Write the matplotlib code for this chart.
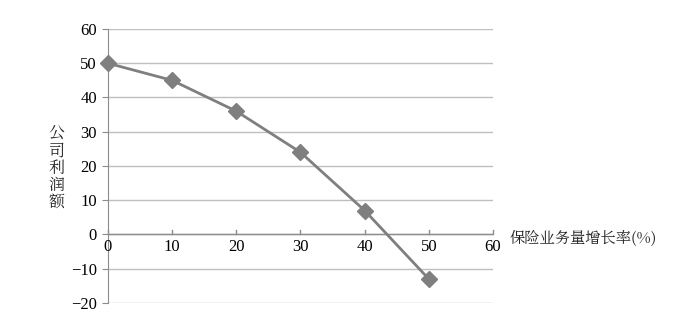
import matplotlib
matplotlib.use('Agg')
import matplotlib.pyplot as plt

x_vals = [0, 10, 20, 30, 40, 50]
profit = [50, 45, 36, 24, 7, -13]
x_ticks = [0, 10, 20, 30, 40, 50, 60]
y_ticks = [-20, -10, 0, 10, 20, 30, 40, 50, 60]

num_font = ['Liberation Serif', 'DejaVu Serif']
cjk_font = ['Noto Serif CJK JP', 'Noto Serif SC', 'Liberation Serif']
plt.rcParams['font.family'] = num_font

fig = plt.figure(figsize=(6.93, 3.18), dpi=100)
ax = fig.add_axes([0.1558, 0.0472, 0.5556, 0.8616])

grid_col = '#bfbfbf'
axis_col = '#8c8c8c'

for yv in y_ticks:
    ax.axhline(yv, color=grid_col, lw=1, zorder=1)

ax.plot(x_vals, profit, color='#7f7f7f', lw=2, marker='D', markersize=8,
        markerfacecolor='#7f7f7f', markeredgecolor='#7f7f7f', zorder=3,
        clip_on=False)

ax.set_xlim(0, 60)
ax.set_ylim(-20, 60)

for s in ['top', 'right', 'bottom']:
    ax.spines[s].set_visible(False)
ax.spines['left'].set_color(axis_col)

# x axis along y=0
ax.axhline(0, color=axis_col, lw=1, zorder=2)
ax.set_xticks([])
for xv in x_ticks:
    ax.plot([xv, xv], [0, 1.3], color=axis_col, lw=1, zorder=2, clip_on=False)
    ax.text(xv, -1.3, str(xv), ha='center', va='top', fontsize=12, family=num_font)

ax.set_yticks(y_ticks)
ax.set_yticklabels([str(v).replace('-', '\u2212') for v in y_ticks], fontsize=12, family=num_font)
ax.tick_params(axis='y', length=4, color=axis_col, pad=4)

ax.text(62.6, -1.5, '保险业务量增长率(%)', ha='left', va='center', fontsize=11,
        family=cjk_font, color='#222222')
fig.text(0.082, 0.472, '公\n司\n利\n润\n额', ha='center', va='center', fontsize=11.5,
         family=cjk_font, linespacing=1.0, color='#222222')

fig.savefig('out.png', dpi=100)
